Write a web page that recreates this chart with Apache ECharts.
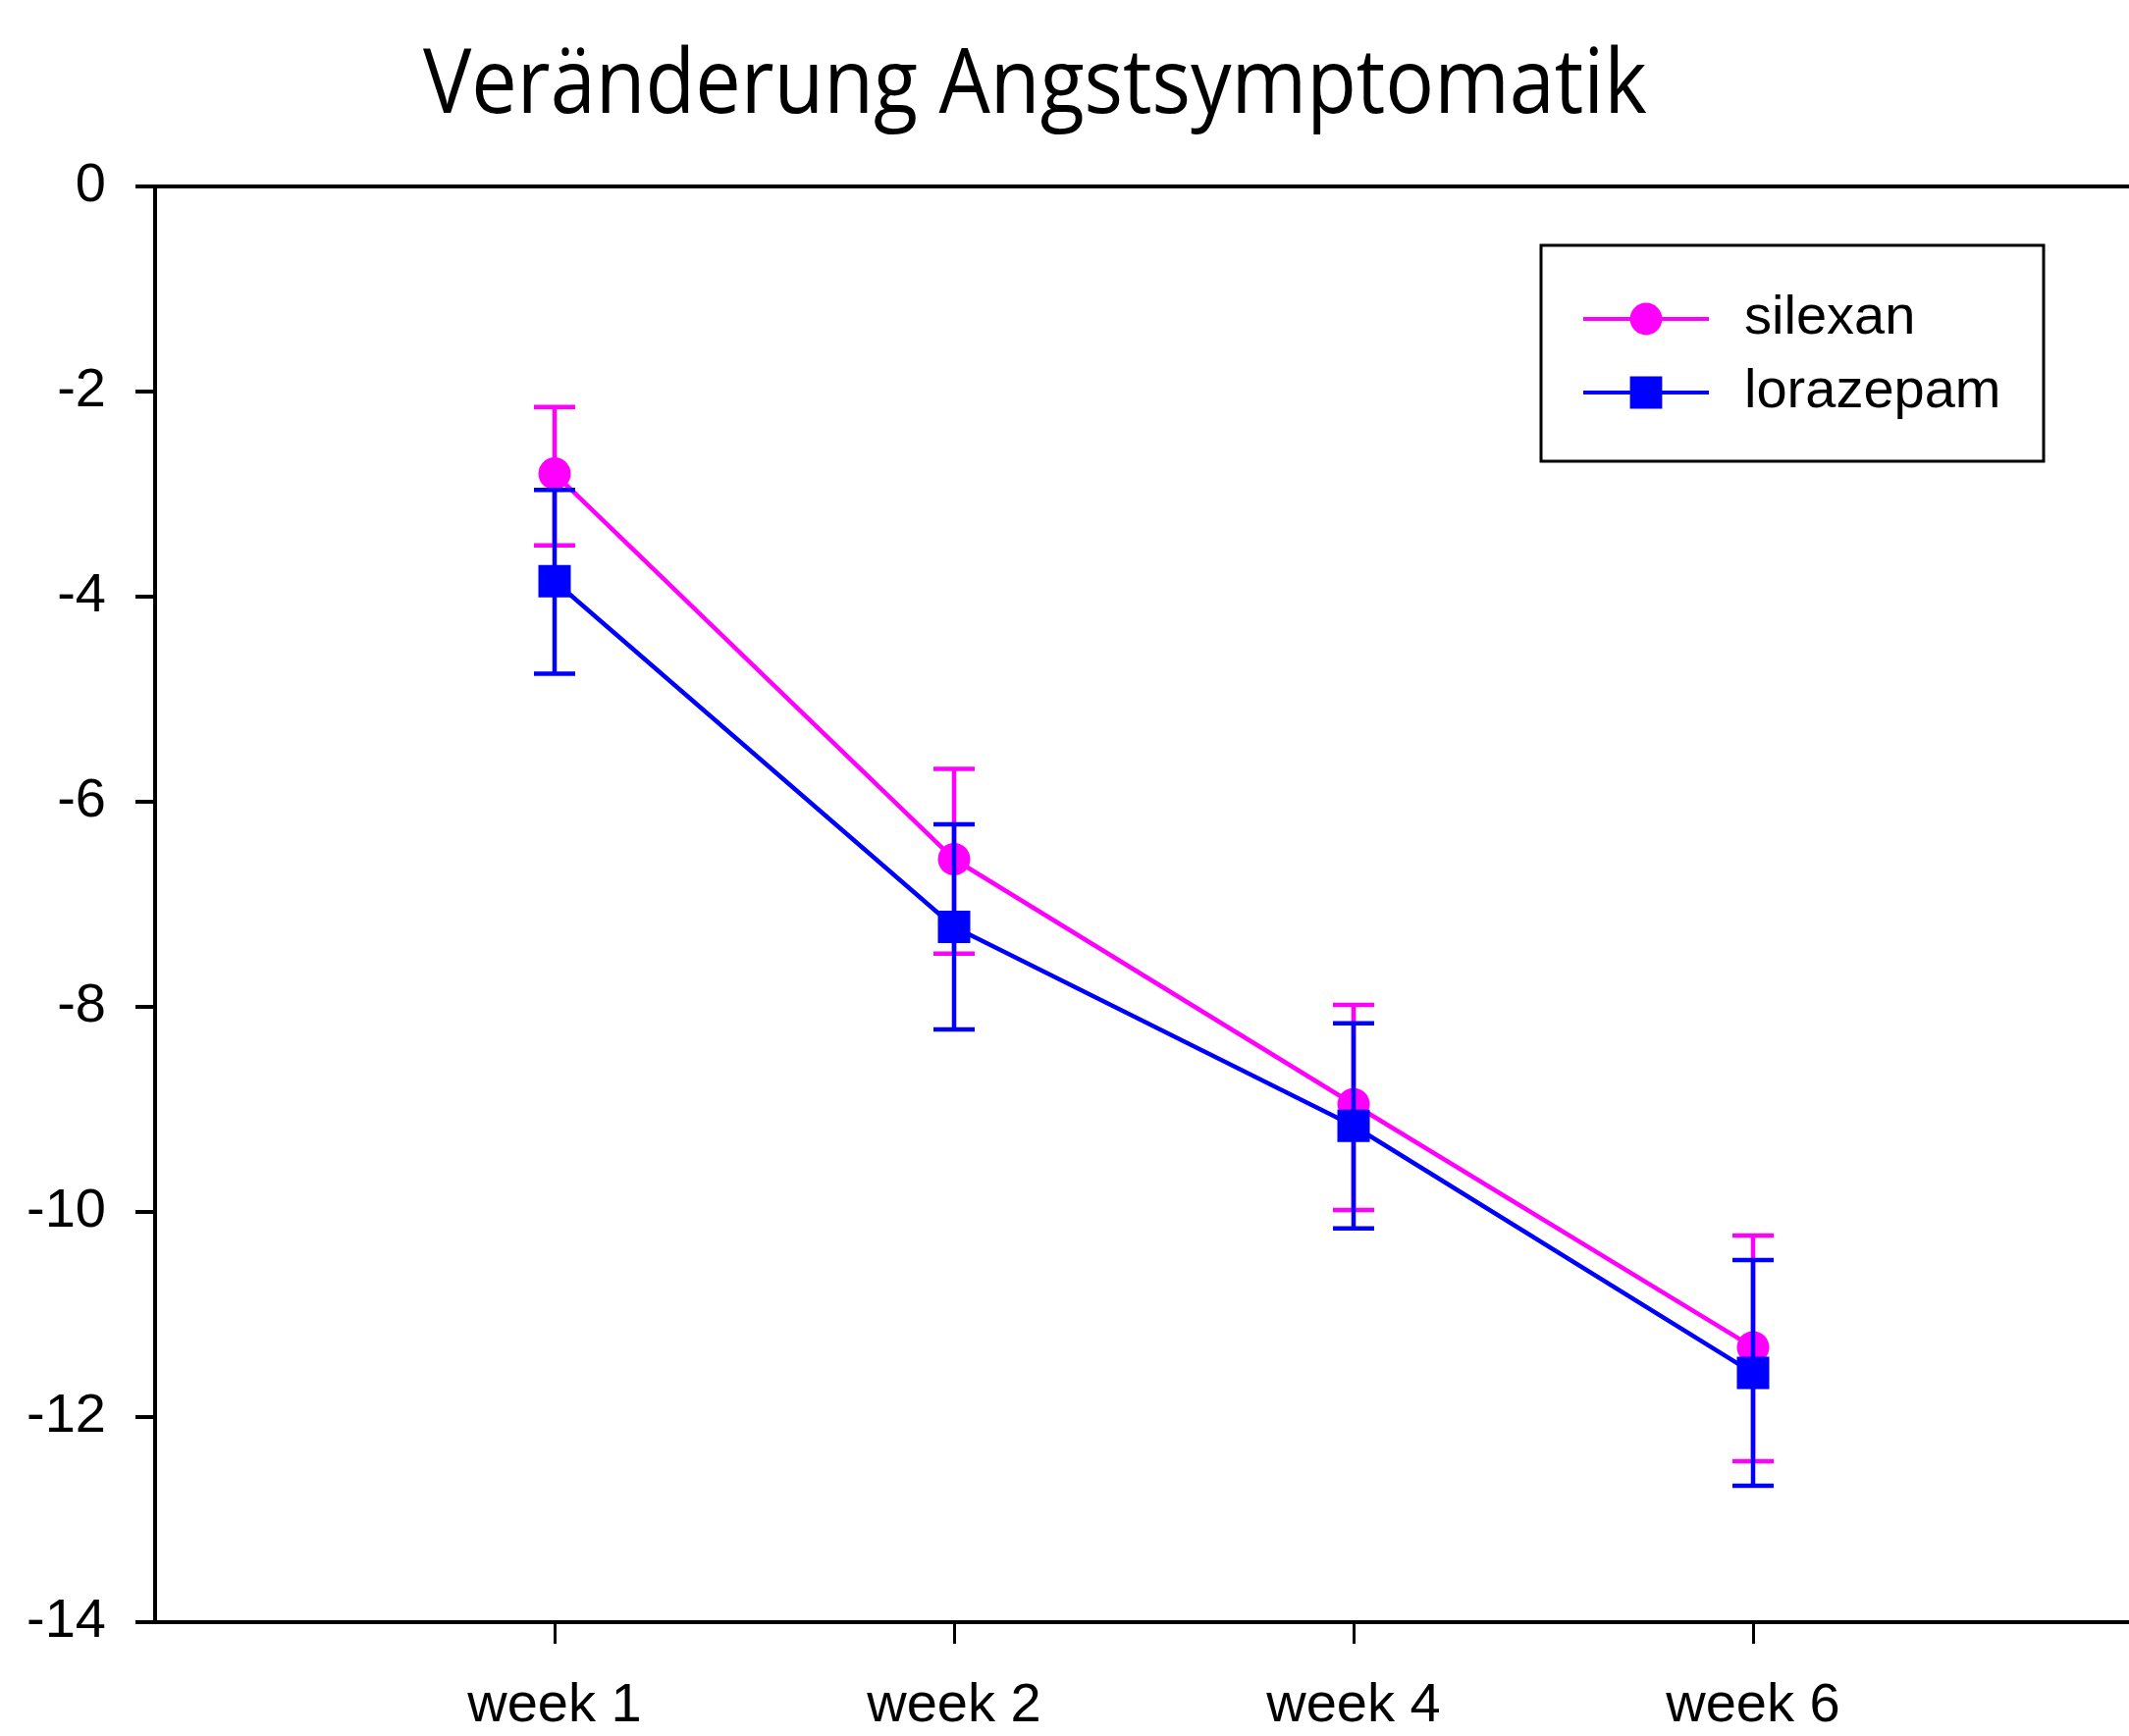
<!DOCTYPE html>
<html>
<head>
<meta charset="utf-8">
<script src="https://cdn.jsdelivr.net/npm/echarts@6/dist/echarts.min.js"></script>
<style>
html,body{margin:0;padding:0;background:#fff;}
#chart{width:2169px;height:1769px;}
</style>
</head>
<body>
<div id="chart"></div>
<script>
const titleText = 'Veränderung Angstsymptomatik';
const weeks = ['week 1', 'week 2', 'week 4', 'week 6'];
const seriesNames = ['silexan', 'lorazepam'];
const silexanMean = [-2.80, -6.56, -8.95, -11.32];
const silexanUpper = [-2.15, -5.68, -7.98, -10.23];
const silexanLower = [-3.50, -7.48, -9.98, -12.43];
const lorazepamMean = [-3.85, -7.22, -9.16, -11.57];
const lorazepamUpper = [-2.96, -6.22, -8.16, -10.47];
const lorazepamLower = [-4.75, -8.22, -10.16, -12.67];

const PINK = '#ff00ff';
const BLUE = '#0000ff';
const labelFont = 'Liberation Sans, Arial, sans-serif';

const xPos = weeks.map((w, i) => i + 1);

function lineData(mean) { return xPos.map((x, i) => [x, mean[i]]); }
function errData(up, lo) { return xPos.map((x, i) => [x, up[i], lo[i]]); }

function errRenderer(color) {
  return function (params, api) {
    const x = api.value(0);
    const pHi = api.coord([x, api.value(1)]);
    const pLo = api.coord([x, api.value(2)]);
    const hw = 21;
    const style = { stroke: color, lineWidth: 4.5 };
    return {
      type: 'group',
      children: [
        { type: 'line', shape: { x1: pHi[0], y1: pHi[1], x2: pLo[0], y2: pLo[1] }, style: style },
        { type: 'line', shape: { x1: pHi[0] - hw, y1: pHi[1], x2: pHi[0] + hw, y2: pHi[1] }, style: style },
        { type: 'line', shape: { x1: pLo[0] - hw, y1: pLo[1], x2: pLo[0] + hw, y2: pLo[1] }, style: style }
      ]
    };
  };
}

const chart = echarts.init(document.getElementById('chart'), null, { renderer: 'canvas' });
chart.setOption({
  backgroundColor: '#ffffff',
  animation: false,
  legend: {
    orient: 'vertical',
    left: 1611,
    top: 297,
    padding: 0,
    itemWidth: 128,
    itemHeight: 41,
    itemGap: 19,
    data: seriesNames,
    lineStyle: { width: 4 },
    textStyle: { fontFamily: labelFont, fontSize: 56, color: '#000', padding: [0, 0, 0, 31] }
  },
  graphic: [{
    type: 'rect',
    shape: { x: 1570, y: 250, width: 512, height: 220 },
    style: { fill: 'none', stroke: '#000', lineWidth: 3 },
    z: 10
  }, {
    type: 'text',
    x: 431,
    y: 43,
    scaleX: 0.9,
    style: {
      text: titleText,
      font: 'normal 92px "Open Sans", sans-serif',
      fill: '#000',
      textAlign: 'left',
      textVerticalAlign: 'top'
    },
    z: 10
  }],
  grid: { left: 158, top: 190, width: 2035, bottom: 116, containLabel: false, outerBoundsMode: 'none' },
  xAxis: [{
    type: 'value',
    min: 0, max: 5, interval: 1,
    position: 'bottom',
    splitLine: { show: false },
    axisLine: { show: true, onZero: false, lineStyle: { color: '#000', width: 4 } },
    axisTick: { show: true, customValues: xPos, length: 22, lineStyle: { color: '#000', width: 3 } },
    axisLabel: {
      customValues: xPos,
      formatter: v => weeks[Math.round(v) - 1] || '',
      margin: 58,
      fontFamily: labelFont, fontSize: 56, color: '#000'
    }
  }, {
    type: 'value',
    min: 0, max: 5, interval: 1,
    position: 'top',
    splitLine: { show: false },
    axisLine: { show: true, onZero: false, lineStyle: { color: '#000', width: 4 } },
    axisTick: { show: false },
    axisLabel: { show: false }
  }],
  yAxis: {
    type: 'value',
    min: -14, max: 0, interval: 2,
    splitLine: { show: false },
    axisLine: { show: true, onZero: false, lineStyle: { color: '#000', width: 4 } },
    axisTick: { show: true, length: 20, lineStyle: { color: '#000', width: 4 } },
    axisLabel: { margin: 50, fontFamily: labelFont, fontSize: 56, color: '#000' }
  },
  series: [
    {
      name: 'silexan', type: 'line', z: 2,
      data: lineData(silexanMean),
      symbol: 'circle', symbolSize: 33,
      lineStyle: { color: PINK, width: 4.5 },
      itemStyle: { color: PINK },
      emphasis: { disabled: true }
    },
    {
      name: 'silexan-err', type: 'custom', z: 3,
      data: errData(silexanUpper, silexanLower),
      encode: { x: 0, y: [1, 2] },
      renderItem: errRenderer(PINK)
    },
    {
      name: 'lorazepam-err', type: 'custom', z: 4,
      data: errData(lorazepamUpper, lorazepamLower),
      encode: { x: 0, y: [1, 2] },
      renderItem: errRenderer(BLUE)
    },
    {
      name: 'lorazepam', type: 'line', z: 5,
      data: lineData(lorazepamMean),
      symbol: 'rect', symbolSize: 33,
      lineStyle: { color: BLUE, width: 4.5 },
      itemStyle: { color: BLUE },
      emphasis: { disabled: true }
    }
  ]
});
</script>
</body>
</html>
